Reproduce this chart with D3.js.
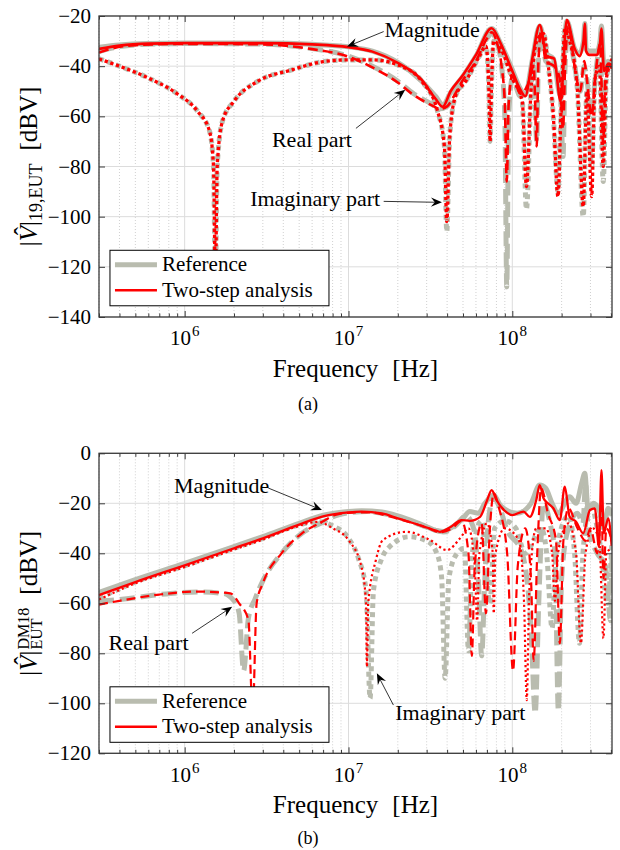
<!DOCTYPE html>
<html>
<head>
<meta charset="utf-8">
<script src="https://cdn.jsdelivr.net/npm/d3@7"></script>
<style>
body { margin: 0; background: #fff; }
</style>
</head>
<body>
<script>
(function() {

    var width = 620,
        height = 850;

    var GRAY = "#b9bcaf",
        RED = "#ff0000",
        FONT = "'Liberation Serif', 'DejaVu Serif', serif";

    // ---- panel (a): |V|_19,EUT, pairs of [frequency Hz, dBV] ----
    var magA_ref = [[3e5,-32.5],[4e5,-31.6],[6e5,-31.0],[1e6,-30.8],[3e6,-30.8],[6e6,-31.3],[1e7,-32.3],[1.4e7,-34],[2e7,-38.5],[2.8e7,-46],[3.4e7,-52],[3.78e7,-55.5],[4.2e7,-50.5],[5e7,-44],[6e7,-36],[7.48e7,-25],[8.5e7,-31],[9.8e7,-40],[1.12e8,-49],[1.2e8,-51.5],[1.32e8,-38],[1.47e8,-24],[1.62e8,-35],[1.78e8,-37],[1.97e8,-52],[2.15e8,-22],[2.4e8,-33],[2.57e8,-35],[2.72e8,-30],[2.77e8,-23],[2.82e8,-33],[2.95e8,-34],[3.3e8,-34],[3.43e8,-30],[3.5e8,-24],[3.63e8,-40],[3.85e8,-38],[4.06e8,-40]];
    var realA_ref = [[3e5,-34.2],[3.6e5,-32.8],[5e5,-31.5],[1e6,-31.0],[3e6,-31.2],[6e6,-33.0],[1e7,-36],[1.4e7,-40],[2e7,-46],[2.5e7,-51],[3.2e7,-55],[3.6e7,-57],[4e7,-56],[4.4e7,-52],[5e7,-46],[6e7,-38],[7e7,-29],[7.5e7,-27],[8e7,-30],[8.6e7,-40],[9.0e7,-60],[9.25e7,-128],[9.5e7,-60],[1.0e8,-45],[1.12e8,-52],[1.25e8,-48],[1.35e8,-40],[1.41e8,-70],[1.44e8,-40],[1.5e8,-27],[1.6e8,-38],[1.8e8,-40],[1.95e8,-45],[2.04e8,-76],[2.1e8,-40],[2.2e8,-25],[2.4e8,-40],[2.6e8,-50],[2.75e8,-40],[2.85e8,-45],[3.05e8,-60],[3.2e8,-45],[3.45e8,-32],[3.5e8,-45],[3.58e8,-70],[3.7e8,-45],[4.06e8,-38]];
    var imagA_ref = [[3e5,-37],[4e5,-40],[6e5,-44.7],[9e5,-51],[1.2e6,-58],[1.42e6,-66],[1.5e6,-80],[1.54e6,-125],[1.58e6,-80],[1.7e6,-62],[2e6,-54],[2.8e6,-46],[4.5e6,-41.5],[7e6,-38.2],[1e7,-37.5],[1.4e7,-37.5],[2e7,-39.5],[2.8e7,-46],[3.5e7,-58],[3.85e7,-72],[3.98e7,-106],[4.15e7,-68],[4.5e7,-52],[5.2e7,-46],[6.3e7,-36],[6.9e7,-32],[7.2e7,-50],[7.32e7,-70],[7.45e7,-50],[7.7e7,-30],[8.5e7,-33],[1e8,-45],[1.15e8,-54],[1.22e8,-97],[1.3e8,-50],[1.41e8,-30],[1.55e8,-27],[1.66e8,-40],[1.78e8,-60],[1.9e8,-90],[1.99e8,-55],[2.1e8,-25],[2.24e8,-30],[2.5e8,-50],[2.71e8,-100],[2.85e8,-50],[3.05e8,-80],[3.2e8,-45],[3.4e8,-40],[3.59e8,-86],[3.75e8,-45],[4.06e8,-36]];

    var magA_two = [[3e5,-33.1],[4e5,-31.8],[6e5,-31.0],[1e6,-30.8],[3e6,-30.8],[6e6,-31.3],[1e7,-32.4],[1.4e7,-34.2],[2e7,-38.7],[2.8e7,-45.5],[3.4e7,-53],[3.76e7,-56.2],[4.2e7,-50],[5e7,-43.5],[6e7,-35.5],[7.48e7,-24.9],[8.5e7,-31],[9.8e7,-40.5],[1.12e8,-49.4],[1.2e8,-52],[1.32e8,-37.5],[1.47e8,-23.6],[1.62e8,-36],[1.8e8,-37],[1.97e8,-54],[2.15e8,-21.6],[2.4e8,-33],[2.57e8,-36],[2.72e8,-30],[2.77e8,-23],[2.82e8,-34],[2.95e8,-35.5],[3.3e8,-35.5],[3.43e8,-31],[3.5e8,-25],[3.63e8,-42],[3.85e8,-39],[4.06e8,-41]];
    var realA_two = [[3e5,-34.6],[3.6e5,-33],[5e5,-31.6],[1e6,-31.1],[3e6,-31.3],[6e6,-33.2],[1e7,-36.2],[1.4e7,-40.5],[2e7,-46.5],[2.5e7,-51.5],[3.2e7,-55.5],[3.6e7,-57],[4e7,-56],[4.4e7,-52],[5e7,-45.5],[6e7,-38],[7e7,-29],[7.5e7,-26.5],[8e7,-30],[8.6e7,-40],[9.0e7,-55],[9.25e7,-86],[9.5e7,-55],[1.0e8,-44],[1.12e8,-51],[1.25e8,-47],[1.35e8,-40],[1.41e8,-72],[1.44e8,-40],[1.5e8,-26],[1.6e8,-38],[1.8e8,-40],[1.95e8,-45],[2.04e8,-65],[2.1e8,-40],[2.2e8,-24],[2.4e8,-40],[2.6e8,-50],[2.75e8,-38],[2.85e8,-45],[3.05e8,-60],[3.2e8,-45],[3.45e8,-31],[3.5e8,-45],[3.58e8,-71],[3.7e8,-45],[4.06e8,-37]];
    var imagA_two = [[3e5,-37.1],[4e5,-40],[6e5,-44.7],[9e5,-51],[1.2e6,-58],[1.42e6,-66],[1.5e6,-80],[1.54e6,-125],[1.58e6,-80],[1.7e6,-62],[2e6,-54],[2.8e6,-46],[4.5e6,-41.5],[7e6,-38.2],[1e7,-37.5],[1.4e7,-37.5],[2e7,-39.5],[2.8e7,-46],[3.5e7,-58],[3.85e7,-72],[3.98e7,-102],[4.15e7,-68],[4.5e7,-52],[5.2e7,-46],[6.3e7,-36],[6.9e7,-32],[7.2e7,-50],[7.32e7,-70],[7.45e7,-50],[7.7e7,-30],[8.5e7,-33],[1e8,-45],[1.15e8,-54],[1.22e8,-88],[1.3e8,-50],[1.41e8,-30],[1.55e8,-27],[1.66e8,-40],[1.78e8,-60],[1.9e8,-92],[1.99e8,-55],[2.1e8,-25],[2.24e8,-30],[2.5e8,-50],[2.71e8,-96],[2.85e8,-50],[3.05e8,-92],[3.2e8,-45],[3.4e8,-40],[3.59e8,-80],[3.75e8,-45],[4.06e8,-38]];

    // ---- panel (b): |V|^DM18_EUT ----
    var magB_ref = [[3e5,-55.6],[5e5,-50.5],[1e6,-44],[2e6,-37.3],[3e6,-33.3],[5e6,-28],[7e6,-24.8],[1e7,-23.3],[1.2e7,-23.0],[1.6e7,-23.5],[2e7,-25],[2.8e7,-28.5],[3.5e7,-31],[3.8e7,-31.3],[4.3e7,-29.5],[5e7,-26],[5.5e7,-23.3],[6.2e7,-24],[6.8e7,-20],[7.7e7,-16.7],[8.5e7,-21],[1.07e8,-24],[1.3e8,-20],[1.47e8,-12.7],[1.6e8,-14],[1.75e8,-20],[1.9e8,-24],[2.24e8,-17.4],[2.45e8,-20],[2.65e8,-12],[2.77e8,-8],[2.9e8,-22],[3.12e8,-20],[3.4e8,-23],[3.6e8,-30],[3.85e8,-22],[4.06e8,-25]];
    var realB_ref = [[3e5,-59],[4e5,-58.5],[7e5,-56.5],[1.2e6,-55.5],[1.7e6,-56],[2.0e6,-59],[2.15e6,-64],[2.29e6,-87],[2.45e6,-66],[2.7e6,-58],[3e6,-51],[3.9e6,-40],[5.2e6,-32],[7e6,-27.5],[8.3e6,-25],[1e7,-23.8],[1.3e7,-23.3],[2e7,-25.5],[3e7,-29.5],[3.8e7,-31.5],[4.5e7,-29],[5.2e7,-25],[5.8e7,-30],[6.2e7,-50],[6.5e7,-81],[6.8e7,-50],[7.2e7,-25],[7.7e7,-18],[8.4e7,-22],[9.2e7,-30],[1.15e8,-40],[1.3e8,-70],[1.38e8,-104],[1.45e8,-60],[1.55e8,-20],[1.7e8,-28],[1.82e8,-40],[1.91e8,-103],[2.0e8,-50],[2.2e8,-30],[2.5e8,-24],[2.7e8,-28],[2.8e8,-12],[2.9e8,-30],[3.3e8,-40],[3.7e8,-45],[3.98e8,-67],[4.06e8,-40]];
    var imagB_ref = [[3e5,-58],[5e5,-51.5],[1e6,-45],[2e6,-38],[3e6,-34],[4.5e6,-29.5],[6.5e6,-27.4],[8e6,-29],[1e7,-34],[1.15e7,-42],[1.28e7,-55],[1.355e7,-98],[1.42e7,-55],[1.6e7,-42],[1.78e7,-37.4],[2.35e7,-33.4],[3e7,-35],[3.46e7,-40],[3.7e7,-49.4],[3.89e7,-90],[4.1e7,-50],[4.6e7,-40],[5.1e7,-38],[5.4e7,-79],[5.7e7,-40],[6.5e7,-27],[7.3e7,-60],[7.8e7,-30],[9e7,-27],[1.05e8,-30],[1.2e8,-40],[1.5e8,-30],[1.62e8,-40],[1.75e8,-70],[1.85e8,-40],[2.2e8,-25],[2.4e8,-40],[2.57e8,-76],[2.7e8,-40],[3e8,-20],[3.3e8,-30],[3.5e8,-40],[3.8e8,-60],[4.06e8,-35]];

    var magB_two = [[3e5,-56.7],[5e5,-51.5],[1e6,-44.8],[2e6,-38],[3e6,-34],[5e6,-28.5],[7e6,-25.2],[1e7,-23.6],[1.2e7,-23.3],[1.6e7,-24],[2e7,-26],[2.8e7,-29],[3.46e7,-31],[3.62e7,-31.4],[4.2e7,-29.5],[4.9e7,-26.7],[5.5e7,-27],[6.36e7,-25.4],[7.0e7,-19],[7.48e7,-14.7],[8.0e7,-18.7],[9.0e7,-23],[1.0e8,-24.7],[1.17e8,-23.3],[1.28e8,-25.4],[1.4e8,-18.7],[1.47e8,-12.7],[1.55e8,-18],[1.65e8,-20],[1.78e8,-22],[1.95e8,-26.7],[2.09e8,-13.3],[2.24e8,-25.4],[2.45e8,-27.4],[2.71e8,-32],[2.98e8,-22.7],[3.19e8,-22],[3.38e8,-37.4],[3.5e8,-6.7],[3.62e8,-32],[3.85e8,-26],[4.04e8,-37]];
    var realB_two = [[3e5,-60.5],[4e5,-59],[7e5,-56.5],[1.2e6,-55.3],[1.9e6,-56],[2.15e6,-60],[2.45e6,-66.7],[2.6e6,-104],[2.75e6,-60],[3e6,-52],[3.9e6,-40],[5.2e6,-32],[6.9e6,-27.4],[8.3e6,-24.7],[1e7,-23.8],[1.3e7,-23.6],[2e7,-26.2],[3e7,-29.7],[3.6e7,-31.6],[4.3e7,-30],[4.9e7,-27],[5.4e7,-40],[5.66e7,-81],[5.9e7,-45],[6.5e7,-28],[6.9e7,-64],[7.3e7,-30],[7.7e7,-16],[8.3e7,-22],[9.3e7,-40],[1.01e8,-87],[1.08e8,-45],[1.2e8,-30],[1.3e8,-50],[1.35e8,-83],[1.42e8,-40],[1.5e8,-14],[1.65e8,-24],[1.85e8,-35],[1.95e8,-76],[2.05e8,-35],[2.2e8,-22],[2.5e8,-30],[2.8e8,-35],[3.0e8,-30],[3.3e8,-40],[3.5e8,-20],[3.6e8,-50],[3.75e8,-30],[4.06e8,-35]];
    var imagB_two = [[3e5,-58.5],[5e5,-52],[1e6,-45.5],[2e6,-38.5],[3e6,-34.5],[4.5e6,-30],[6.5e6,-27.4],[8e6,-30],[1e7,-34.7],[1.2e7,-45.4],[1.28e7,-60],[1.295e7,-85.4],[1.32e7,-60],[1.47e7,-42.7],[1.62e7,-34.7],[2.25e7,-31.4],[3.15e7,-34.7],[4e7,-38.7],[4.8e7,-34],[5.4e7,-30],[5.9e7,-45],[6.1e7,-67],[6.3e7,-40],[7.0e7,-28],[7.6e7,-40],[7.7e7,-64],[7.9e7,-40],[9e7,-30],[1.1e8,-35],[1.18e8,-60],[1.225e8,-98.7],[1.27e8,-55],[1.4e8,-30],[1.6e8,-30],[1.75e8,-40],[1.82e8,-59],[1.9e8,-40],[2.2e8,-28],[2.45e8,-40],[2.62e8,-76],[2.8e8,-40],[3.1e8,-30],[3.4e8,-35],[3.6e8,-74],[3.75e8,-40],[4.06e8,-38]];

    var xMajor = [1e6, 1e7, 1e8];
    var yTicksA = [-140, -120, -100, -80, -60, -40, -20];
    var yTicksB = [-120, -100, -80, -60, -40, -20, 0];
    var legendNames = ["Reference", "Two-step analysis"];

    var svg = d3.select("body")
        .append("svg")
        .attr("width", width)
        .attr("height", height)
        .attr("font-family", FONT)
        .style("font-family", FONT);

    var x = d3.scaleLog().domain([3e5, 4.06e8]).range([99, 612]);

    // minor x ticks: 2..9 times each decade inside the domain
    var xMinor = [];
    [1e5, 1e6, 1e7, 1e8].forEach(function(d) {
        for (var k = 2; k <= 9; k++) {
            var v = d * k;
            if (v >= 3e5 && v <= 4.06e8 && xMajor.indexOf(v) < 0) xMinor.push(v);
        }
    });

    var panels = [
        {
            id: "a",
            y: d3.scaleLinear().domain([-140, -20]).range([317, 16]),
            yTicks: yTicksA,
            ref: [magA_ref, realA_ref, imagA_ref],
            two: [magA_two, realA_two, imagA_two],
            redW: [2.6, 2.6, 3.3],
            redDash: [null, "10,5", "3.3,2.7"],
            tickBase: 345, xlabelBase: 377, caption: "(a)", captionBase: 410,
            legend: [-113.4, 3.5e5],  // dB of top edge, freq of left edge
            ylab: { cx: 37, kind: "a" },
            notes: [
                { text: "Magnitude", at: [1.66e7, -28.4], from: [1.64e7, -26.2], to: [9.8e6, -32.2] },
                { text: "Real part", at: [3.41e6, -72.2], from: [1.11e7, -64.8], to: [2.22e7, -49.4] },
                { text: "Imaginary part", at: [2.51e6, -95.8], from: [1.64e7, -93.9], to: [3.72e7, -94.3] }
            ]
        },
        {
            id: "b",
            y: d3.scaleLinear().domain([-120, 0]).range([753.3, 453.3]),
            yTicks: yTicksB,
            ref: [magB_ref, realB_ref, imagB_ref],
            two: [magB_two, realB_two, imagB_two],
            redW: [2.3, 2.2, 2.2],
            redDash: [null, "9,5", "2.2,2.8"],
            tickBase: 782, xlabelBase: 813, caption: "(b)", captionBase: 844,
            legend: [-93.4, 3.5e5],
            ylab: { cx: 37, kind: "b" },
            notes: [
                { text: "Magnitude", at: [8.6e5, -15.9], from: [3.24e6, -13.9], to: [6.89e6, -22.7] },
                { text: "Real part", at: [3.43e5, -78.8], from: [1.11e6, -72], to: [1.95e6, -61.4] },
                { text: "Imaginary part", at: [1.93e7, -106.5], from: [1.88e7, -100.7], to: [1.49e7, -88] }
            ]
        }
    ];

    panels.forEach(drawPanel);

    function txt(sel, size) {
        return sel.attr("font-family", FONT)
            .style("font-family", FONT)
            .style("font-size", size + "px")
            .attr("fill", "#000");
    }

    function drawPanel(p) {
        var y = p.y,
            x0 = x.range()[0], x1 = x.range()[1],
            yTop = y.range()[1], yBot = y.range()[0];

        var g = svg.append("g").attr("class", "panel-" + p.id);

        g.append("clipPath").attr("id", "clip-" + p.id)
            .append("rect")
            .attr("x", x0).attr("y", yTop)
            .attr("width", x1 - x0).attr("height", yBot - yTop);

        // grid
        var grid = g.append("g");
        grid.selectAll(".gminor").data(xMinor).enter().append("line")
            .attr("x1", x).attr("x2", x).attr("y1", yTop).attr("y2", yBot)
            .attr("stroke", "#c4c4c4").attr("stroke-width", 0.8)
            .attr("stroke-dasharray", "1,2");
        grid.selectAll(".gmajor").data(xMajor).enter().append("line")
            .attr("x1", x).attr("x2", x).attr("y1", yTop).attr("y2", yBot)
            .attr("stroke", "#dcdcdc").attr("stroke-width", 1);
        grid.selectAll(".gy").data(p.yTicks).enter().append("line")
            .attr("x1", x0).attr("x2", x1).attr("y1", y).attr("y2", y)
            .attr("stroke", "#dcdcdc").attr("stroke-width", 1);

        var line = d3.line()
            .curve(d3.curveMonotoneX)
            .x(function(d) { return x(d[0]); })
            .y(function(d) { return y(d[1]); });

        var plot = g.append("g").attr("clip-path", "url(#clip-" + p.id + ")");

        var refDash = [null, "15,6", "5,4"];
        p.ref.forEach(function(s, i) {
            plot.append("path")
                .attr("d", line(s))
                .attr("fill", "none")
                .attr("stroke", GRAY)
                .attr("stroke-width", 5)
                .attr("stroke-linejoin", "round")
                .attr("stroke-dasharray", refDash[i]);
        });
        p.two.forEach(function(s, i) {
            plot.append("path")
                .attr("d", line(s))
                .attr("fill", "none")
                .attr("stroke", RED)
                .attr("stroke-width", p.redW[i])
                .attr("stroke-linejoin", "round")
                .attr("stroke-dasharray", p.redDash[i]);
        });

        // box and inward ticks
        g.append("rect")
            .attr("x", x0).attr("y", yTop)
            .attr("width", x1 - x0).attr("height", yBot - yTop)
            .attr("fill", "none").attr("stroke", "#3a3a3a").attr("stroke-width", 1.3);

        function ticks(axis, tx, ty) {
            var a = g.append("g").attr("transform", "translate(" + tx + "," + ty + ")").call(axis);
            a.select(".domain").remove();
            a.selectAll("line").attr("stroke", "#3a3a3a").attr("stroke-width", 1);
            a.selectAll("text").remove();
        }
        ticks(d3.axisBottom(x).tickValues(xMajor).tickSize(-6).tickSizeOuter(0), 0, yBot);
        ticks(d3.axisBottom(x).tickValues(xMinor).tickSize(-3.5).tickSizeOuter(0), 0, yBot);
        ticks(d3.axisTop(x).tickValues(xMajor).tickSize(-6).tickSizeOuter(0), 0, yTop);
        ticks(d3.axisTop(x).tickValues(xMinor).tickSize(-3.5).tickSizeOuter(0), 0, yTop);
        ticks(d3.axisLeft(y).tickValues(p.yTicks).tickSize(-6).tickSizeOuter(0), x0, 0);
        ticks(d3.axisRight(y).tickValues(p.yTicks).tickSize(-6).tickSizeOuter(0), x1, 0);

        // tick labels (math minus sign, as in the LaTeX-typeset original)
        txt(g.selectAll(".ylab").data(p.yTicks).enter().append("text"), 21)
            .attr("x", x0 - 8).attr("y", y).attr("dy", "0.34em")
            .attr("text-anchor", "end")
            .text(function(d) { return d < 0 ? "\u2212" + (-d) : d; });

        var xl = txt(g.selectAll(".xlab").data(xMajor).enter().append("text"), 21)
            .attr("x", x).attr("y", p.tickBase)
            .attr("text-anchor", "middle");
        xl.append("tspan").text("10");
        xl.append("tspan").attr("dx", 1).attr("dy", -9).style("font-size", "15px")
            .text(function(d) { return Math.round(Math.log10(d)); });

        var xt = txt(g.append("text"), 25)
            .attr("x", (x0 + x1) / 2).attr("y", p.xlabelBase)
            .attr("text-anchor", "middle");
        xt.append("tspan").text("Frequency");
        xt.append("tspan").attr("dx", 14).text("[Hz]");

        txt(g.append("text"), 18)
            .attr("x", 308).attr("y", p.captionBase)
            .attr("text-anchor", "middle")
            .text(p.caption);

        yLabel(g, p.ylab.kind, p.ylab.cx, (yTop + yBot) / 2);

        // legend
        var lx = x(p.legend[1]), ly = y(p.legend[0]);
        var leg = g.append("g").attr("transform", "translate(" + lx + "," + ly + ")");
        leg.append("rect")
            .attr("width", 219).attr("height", 55.5)
            .attr("fill", "#fff").attr("stroke", "#000").attr("stroke-width", 1);
        leg.append("line").attr("x1", 5).attr("x2", 47).attr("y1", 14.5).attr("y2", 14.5)
            .attr("stroke", GRAY).attr("stroke-width", 5);
        leg.append("line").attr("x1", 5).attr("x2", 47).attr("y1", 40).attr("y2", 40)
            .attr("stroke", RED).attr("stroke-width", 2.5);
        txt(leg.selectAll(".lt").data(legendNames).enter().append("text"), 21)
            .attr("x", 52).attr("y", function(d, i) { return 21 + i * 25.5; })
            .text(function(d) { return d; });

        // annotations
        p.notes.forEach(function(n) {
            txt(g.append("text"), 22)
                .attr("x", x(n.at[0])).attr("y", y(n.at[1]))
                .text(n.text);
            arrow(g, x(n.from[0]), y(n.from[1]), x(n.to[0]), y(n.to[1]));
        });
    }

    function arrow(g, x1, y1, x2, y2) {
        var a = Math.atan2(y2 - y1, x2 - x1),
            c = Math.cos(a), s = Math.sin(a),
            L = 11, W = 4.6;
        var bx = x2 - L * c, by = y2 - L * s,
            nx = x2 - 0.65 * L * c, ny = y2 - 0.65 * L * s;
        g.append("line")
            .attr("x1", x1).attr("y1", y1).attr("x2", nx).attr("y2", ny)
            .attr("stroke", "#000").attr("stroke-width", 0.8);
        g.append("path")
            .attr("d", "M" + x2 + "," + y2 +
                "L" + (bx + W * s) + "," + (by - W * c) +
                "L" + nx + "," + ny +
                "L" + (bx - W * s) + "," + (by + W * c) + "Z")
            .attr("fill", "#000");
    }

    function yLabel(parent, kind, cx, cy) {
        var pieces;
        if (kind === "a") {
            pieces = [
                { text: "|", size: 25 },
                { text: "V", size: 25, italic: true, hat: true },
                { text: "|", size: 25 },
                { text: "19,EUT", size: 18, dy: 4.5, gap: 13 },
                { text: "[dBV]", size: 25 }
            ];
        } else {
            pieces = [
                { text: "|", size: 25 },
                { text: "V", size: 25, italic: true, hat: true },
                { text: "|", size: 25, gap: 1 },
                { text: "DM18", size: 16, dy: -8.5, stack: true },
                { text: "EUT", size: 16, dy: 5, gap: 13 },
                { text: "[dBV]", size: 25 }
            ];
        }
        var g = parent.append("g").attr("transform", "translate(" + cx + "," + cy + ") rotate(-90)");
        var inner = g.append("g");
        var pos = 0, held = 0;
        pieces.forEach(function(p) {
            var t = txt(inner.append("text"), p.size)
                .attr("x", pos).attr("y", p.dy || 0)
                .text(p.text);
            if (p.italic) t.style("font-style", "italic");
            var w = t.node().getComputedTextLength();
            if (p.hat) {
                txt(inner.append("text"), p.size)
                    .attr("x", pos + w / 2 + 2.5).attr("y", -5)
                    .attr("text-anchor", "middle")
                    .text("\u02C6");
            }
            if (p.stack) {
                held = w;
            } else {
                pos += Math.max(w, held) + (p.gap || 0);
                held = 0;
            }
        });
        inner.attr("transform", "translate(" + (-pos / 2) + ",0)");
    }

})();
</script>
</body>
</html>
